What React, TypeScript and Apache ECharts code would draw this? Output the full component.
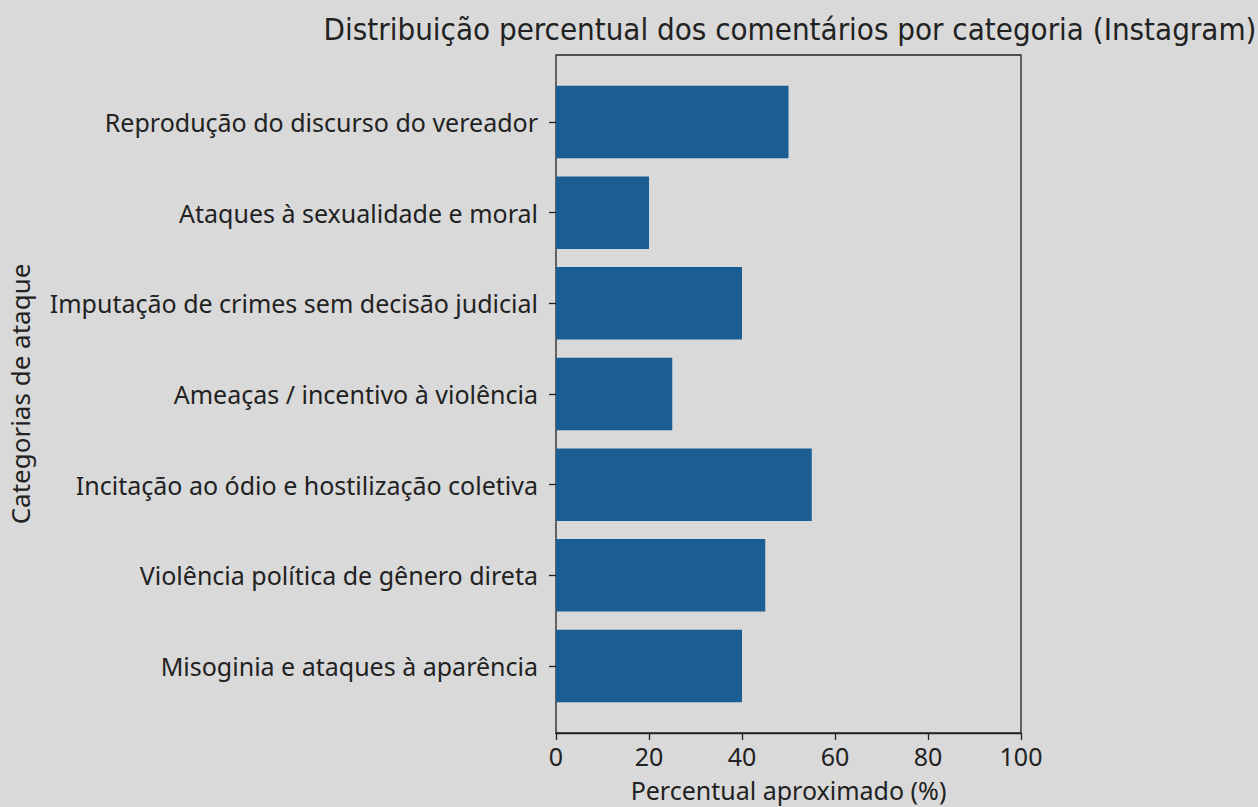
import React, { useEffect, useRef } from "react";
import * as echarts from "echarts";

const categories = [
  "Reprodução do discurso do vereador",
  "Ataques à sexualidade e moral",
  "Imputação de crimes sem decisão judicial",
  "Ameaças / incentivo à violência",
  "Incitação ao ódio e hostilização coletiva",
  "Violência política de gênero direta",
  "Misoginia e ataques à aparência",
];
const values = [50, 20, 40, 25, 55, 45, 40];
const xTicks = [0, 20, 40, 60, 80, 100];

const TITLE = "Distribuição percentual dos comentários por categoria (Instagram)";
const X_NAME = "Percentual aproximado (%)";
const Y_NAME = "Categorias de ataque";

export default function App() {
  const ref = useRef<HTMLDivElement>(null);
  useEffect(() => {
    const chart = echarts.init(ref.current!, null, { renderer: "svg" });
    const font = "Noto Sans";
    const fs = 25;
    const left = 556, right = 1258 - 1021, top = 55, bottom = 807 - 733;
    const inner = 21.7;
    chart.setOption({
      animation: false,
      backgroundColor: "#d9d9d9",
      title: {
        text: TITLE,
        left: 785,
        top: 8,
        textAlign: "center",
        textStyle: { fontFamily: "DejaVu Sans Condensed", fontSize: 31, fontWeight: "normal", color: "#222" },
      },
      grid: [
        { left, right, top, bottom, outerBoundsMode: "none", containLabel: false, show: true, borderColor: "#222", borderWidth: 1.3, backgroundColor: "transparent" },
        { left, right, top: top + inner, bottom: bottom + inner, outerBoundsMode: "none", containLabel: false },
      ],
      xAxis: [
        {
          gridIndex: 0,
          type: "value",
          min: 0,
          max: 100,
          interval: 20,
          name: X_NAME,
          nameLocation: "middle",
          nameGap: 44,
          nameTextStyle: { fontFamily: font, fontSize: fs, color: "#222" },
          axisLine: { show: true, lineStyle: { color: "#222", width: 1.3 } },
          axisTick: { show: true, length: 7, lineStyle: { color: "#222", width: 1.3 } },
          axisLabel: { fontFamily: font, fontSize: fs, color: "#222", margin: 10, formatter: (v: number) => (xTicks.includes(v) ? String(v) : "") },
          splitLine: { show: false },
        },
        {
          gridIndex: 1,
          type: "value",
          min: 0,
          max: 100,
          show: false,
          splitLine: { show: false },
        },
      ],
      yAxis: [
        {
          gridIndex: 0,
          type: "value",
          min: 0,
          max: 1,
          axisLine: { show: false },
          axisTick: { show: false },
          axisLabel: { show: false },
          splitLine: { show: false },
          name: Y_NAME,
          nameLocation: "middle",
          nameRotate: 90,
          nameGap: 523,
          nameTextStyle: { fontFamily: font, fontSize: 26, color: "#222" },
        },
        {
          gridIndex: 1,
          type: "category",
          data: categories,
          inverse: true,
          axisLine: { show: false },
          axisTick: { show: true, alignWithLabel: true, length: 7, lineStyle: { color: "#222", width: 1.3 } },
          axisLabel: { fontFamily: font, fontSize: fs, color: "#222", margin: 18, padding: [0, 0, 3, 0] },
          splitLine: { show: false },
        },
      ],
      series: [
        {
          type: "bar",
          xAxisIndex: 1,
          yAxisIndex: 1,
          data: values,
          barWidth: "80%",
          itemStyle: { color: "#1a5e94" },
        },
      ],
    });
    return () => chart.dispose();
  }, []);
  return <div ref={ref} style={{ position: "absolute", left: 0, top: 0, width: 1258, height: 807 }} />;
}
